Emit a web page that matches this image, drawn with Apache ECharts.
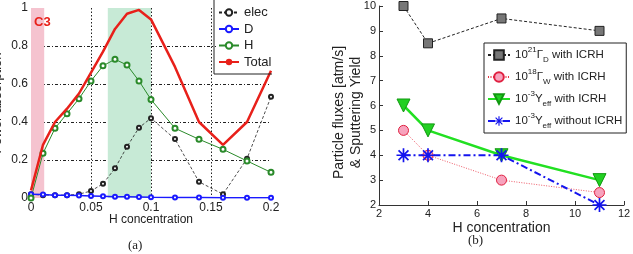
<!DOCTYPE html>
<html><head><meta charset="utf-8">
<script src="https://cdn.jsdelivr.net/npm/echarts@6/dist/echarts.min.js"></script>
<style>html,body{margin:0;padding:0;background:#fff}#c{width:633px;height:254px}</style>
</head><body><div id="c"></div>
<script>
// ---- Panel (a) data ----
const xsA = [0, 0.01, 0.02, 0.03, 0.04, 0.05, 0.06, 0.07, 0.08, 0.09, 0.1, 0.12, 0.14, 0.16, 0.18, 0.2];
const elecA = [0.02, 0.015, 0.015, 0.015, 0.02, 0.037, 0.075, 0.156, 0.27, 0.37, 0.42, 0.31, 0.085, 0.02, 0.207, 0.533];
const dA = [0.02, 0.018, 0.015, 0.014, 0.013, 0.011, 0.009, 0.007, 0.006, 0.005, 0.004, 0.003, 0.002, 0.001, 0.001, 0.001];
const hA = [0.0, 0.235, 0.367, 0.444, 0.523, 0.616, 0.696, 0.73, 0.70, 0.616, 0.518, 0.367, 0.309, 0.256, 0.195, 0.135];
const totalA = [0.04, 0.28, 0.40, 0.47, 0.55, 0.66, 0.77, 0.89, 0.97, 0.99, 0.94, 0.69, 0.40, 0.28, 0.40, 0.67];
const regionC3 = [0, 0.011];
const regionGreen = [0.064, 0.1];

// ---- Panel (b) data ----
const xsB = [3, 4, 7, 11];
const gammaD = [10, 8.5, 9.5, 9];
const gammaW = [5, 4, 3, 2.5];
const yEffWith = [6, 5, 4, 3];
const yEffWithout = [4, 4, 4, 2];

const pairs = (xs, ys) => xs.map((x, i) => [x, ys[i]]);
const asterisk = 'path://M-1 -0.12L1 -0.12L1 0.12L-1 0.12Z M-0.12 -1L0.12 -1L0.12 1L-0.12 1Z M-0.792 -0.622L-0.622 -0.792L0.792 0.622L0.622 0.792Z M-0.792 0.622L0.622 -0.792L0.792 -0.622L-0.622 0.792Z';

const legendNamesB = {
  'GD': '{b|10}{sup|21}{b|Γ}{sub|D}{b| with ICRH}',
  'GW': '{b|10}{sup|18}{b|Γ}{sub|W}{b| with ICRH}',
  'YW': '{b|10}{sup|-3}{b|Y}{sub|eff}{b| with ICRH}',
  'YWO': '{b|10}{sup|-3}{b|Y}{sub|eff}{b| without ICRH}'
};

const chart = echarts.init(document.getElementById('c'), null, {renderer: 'canvas'});
const axisFont = 'Arial, "Liberation Sans", sans-serif';

chart.setOption({
  animation: false,
  backgroundColor: '#fff',
  textStyle: {fontFamily: axisFont},
  grid: [
    {left: 31, top: 8, width: 240, height: 190, containLabel: false, outerBoundsMode: 'none'},
    {left: 379, top: 6, width: 245, height: 199, containLabel: false, outerBoundsMode: 'none'}
  ],
  xAxis: [
    {gridIndex: 0, type: 'value', min: 0, max: 0.2, interval: 0.05,
     axisLine: {show: false}, axisTick: {show: false},
     axisLabel: {color: '#222', fontSize: 12, margin: 4, formatter: v => String(+v.toFixed(2))},
     splitLine: {show: true, showMinLine: false, showMaxLine: false, lineStyle: {color: '#222', type: [1.5, 2], width: 1}},
     name: 'H concentration', nameLocation: 'middle', nameGap: 16, nameMoveOverlap: false,
     nameTextStyle: {color: '#222', fontSize: 12}},
    {gridIndex: 1, type: 'value', min: 2, max: 12, interval: 2,
     axisLine: {show: true, onZero: false, lineStyle: {color: '#333', width: 1}},
     axisTick: {show: true, inside: true, length: 4, lineStyle: {color: '#333'}},
     axisLabel: {color: '#222', fontSize: 11, margin: 3},
     splitLine: {show: false},
     name: 'H concentration', nameLocation: 'middle', nameGap: 16, nameMoveOverlap: false,
     nameTextStyle: {color: '#222', fontSize: 14}}
  ],
  yAxis: [
    {gridIndex: 0, type: 'value', min: 0, max: 1, interval: 0.2,
     axisLine: {show: false}, axisTick: {show: false},
     axisLabel: {color: '#222', fontSize: 12, margin: 3, formatter: v => String(+v.toFixed(1))},
     splitLine: {show: true, showMinLine: false, showMaxLine: false, lineStyle: {color: '#222', type: [3, 2, 1, 2], width: 1}},
     name: 'Power absorption', nameLocation: 'middle', nameGap: 27, nameRotate: 90, nameMoveOverlap: false,
     nameTextStyle: {color: '#222', fontSize: 13}},
    {gridIndex: 1, type: 'value', min: 2, max: 10, interval: 1,
     axisLine: {show: true, onZero: false, lineStyle: {color: '#333', width: 1}},
     axisTick: {show: true, inside: true, length: 4, lineStyle: {color: '#333'}},
     axisLabel: {color: '#222', fontSize: 11, margin: 3},
     splitLine: {show: false},
     name: 'Particle fluxes [atm/s]\n& Sputtering Yield', nameLocation: 'middle', nameGap: 14, nameRotate: 90, nameMoveOverlap: false,
     nameTextStyle: {color: '#222', fontSize: 14, lineHeight: 17, padding: [0, 14, 0, 0]}}
  ],
  legend: [
    {data: ['elec', 'D', 'H', 'Total'], orient: 'vertical', left: 216, top: 2,
     itemGap: 3.5, itemWidth: 20, itemHeight: 8, padding: [4, 2, 4, 2],
     backgroundColor: '#fff', textStyle: {color: '#222', fontSize: 13}},
    {data: ['GD', 'GW', 'YW', 'YWO'], orient: 'vertical', left: 484, top: 43,
     itemGap: 4, itemWidth: 22, itemHeight: 12, padding: [3, 4, 3, 3],
     backgroundColor: '#fff', borderColor: '#222', borderWidth: 1,
     formatter: n => legendNamesB[n],
     textStyle: {rich: {
       b: {fontSize: 11.5, color: '#222', lineHeight: 18, verticalAlign: 'middle'},
       sup: {fontSize: 8, color: '#222', lineHeight: 8, verticalAlign: 'top'},
       sub: {fontSize: 8, color: '#222', lineHeight: 8, verticalAlign: 'bottom'}
     }}}
  ],
  graphic: [
    {type: 'polyline', silent: true, z: 100, shape: {points: [[214, 0], [214, 74], [272, 74]]},
     style: {stroke: '#222', lineWidth: 1, fill: null}},
    {type: 'text', left: 34, top: 16, z: 100, style: {text: 'C3', fill: '#e8201a', font: 'bold 13px Arial, "Liberation Sans", sans-serif'}},
    {type: 'text', left: 128, top: 239, style: {text: '(a)', fill: '#222', font: '13px "Liberation Serif", "DejaVu Serif", serif'}},
    {type: 'text', left: 468, top: 234, style: {text: '(b)', fill: '#222', font: '13px "Liberation Serif", "DejaVu Serif", serif'}}
  ],
  series: [
    {name: 'elec', type: 'line', xAxisIndex: 0, yAxisIndex: 0, data: pairs(xsA, elecA),
     symbol: 'emptyCircle', symbolSize: 4, z: 3,
     lineStyle: {color: '#222', width: 0.8, type: [3, 2]}, itemStyle: {color: '#222', borderWidth: 0.8},
     markArea: {silent: true, z: 1, data: [
       [{xAxis: regionC3[0], itemStyle: {color: '#f5c3cf'}}, {xAxis: regionC3[1]}],
       [{xAxis: regionGreen[0], itemStyle: {color: '#c7ead6'}}, {xAxis: regionGreen[1]}]
     ]}},
    {name: 'D', type: 'line', xAxisIndex: 0, yAxisIndex: 0, data: pairs(xsA, dA),
     symbol: 'emptyCircle', symbolSize: 4, z: 4,
     lineStyle: {color: '#1a1aff', width: 1.5}, itemStyle: {color: '#1a1aff', borderWidth: 1}},
    {name: 'H', type: 'line', xAxisIndex: 0, yAxisIndex: 0, data: pairs(xsA, hA),
     symbol: 'emptyCircle', symbolSize: 5, z: 4,
     lineStyle: {color: '#2a8a2a', width: 1}, itemStyle: {color: '#2a8a2a', borderWidth: 1}},
    {name: 'Total', type: 'line', xAxisIndex: 0, yAxisIndex: 0, data: pairs(xsA, totalA),
     symbol: 'none', z: 5,
     lineStyle: {color: '#e8201a', width: 2.5}, itemStyle: {color: '#e8201a'}},

    {name: 'GD', type: 'line', xAxisIndex: 1, yAxisIndex: 1, data: pairs(xsB, gammaD),
     symbol: 'rect', symbolSize: 9,
     lineStyle: {color: '#222', width: 1, type: [3, 2]},
     itemStyle: {color: '#777', borderColor: '#222', borderWidth: 1}},
    {name: 'GW', type: 'line', xAxisIndex: 1, yAxisIndex: 1, data: pairs(xsB, gammaW),
     symbol: 'circle', symbolSize: 10,
     lineStyle: {color: '#e83040', width: 0.8, type: [1, 1.5]},
     itemStyle: {color: '#f7a3bd', borderColor: '#e02040', borderWidth: 1}},
    {name: 'YW', type: 'line', xAxisIndex: 1, yAxisIndex: 1, data: pairs(xsB, yEffWith),
     symbol: 'triangle', symbolRotate: 180, symbolSize: 13,
     lineStyle: {color: '#22e022', width: 2.5},
     itemStyle: {color: '#22d022', borderColor: '#119911', borderWidth: 1}},
    {name: 'YWO', type: 'line', xAxisIndex: 1, yAxisIndex: 1, data: pairs(xsB, yEffWithout),
     symbol: asterisk, symbolSize: 14,
     lineStyle: {color: '#1414ee', width: 2, type: [7, 3, 2, 3]},
     itemStyle: {color: '#1414ee'}}
  ]
});
</script></body></html>
